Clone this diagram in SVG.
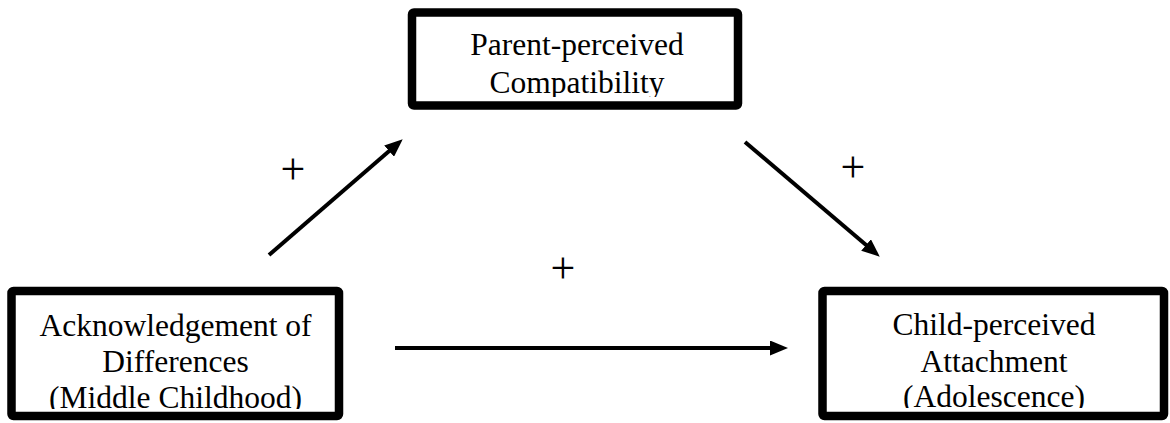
<svg xmlns="http://www.w3.org/2000/svg" width="1170" height="423" viewBox="0 0 1170 423">
<style>
.box{fill:#fff;stroke:#000;stroke-width:8.5}
.lbl{font-family:"Liberation Serif","Times New Roman",serif;font-size:31.5px;fill:#000;text-anchor:middle}
.plus{font-family:"Liberation Serif","Times New Roman",serif;font-size:44px;fill:#000;text-anchor:middle}
.conn{stroke:#000;stroke-width:4;fill:none;marker-end:url(#ah)}
</style>
<defs>
<marker id="ah" markerUnits="userSpaceOnUse" markerWidth="18" markerHeight="15" refX="7" refY="7.5" orient="auto">
<path d="M0,0 L18,7.5 L0,15 z" fill="#000"/>
</marker>
<clipPath id="c1"><rect x="416" y="17" width="318" height="80"/></clipPath>
<clipPath id="c2"><rect x="16" y="295" width="320" height="114"/></clipPath>
<clipPath id="c3"><rect x="827" y="295" width="333" height="113"/></clipPath>
</defs>
<rect width="1170" height="423" fill="#fff"/>
<g id="node-compatibility">
<rect class="box" x="412" y="12.5" width="326" height="93" rx="2"/>
<g clip-path="url(#c1)">
<text class="lbl" x="577" y="55">Parent-perceived</text>
<text class="lbl" x="577" y="93">Compatibility</text>
</g>
</g>
<g id="node-acknowledgement">
<rect class="box" x="11.5" y="291" width="327.5" height="125" rx="2"/>
<g clip-path="url(#c2)">
<text class="lbl" x="175.5" y="336">Acknowledgement of</text>
<text class="lbl" x="175.5" y="372">Differences</text>
<text class="lbl" x="175.5" y="408">(Middle Childhood)</text>
</g>
</g>
<g id="node-attachment">
<rect class="box" x="822.5" y="291" width="341.5" height="125" rx="2"/>
<g clip-path="url(#c3)">
<text class="lbl" x="994" y="335">Child-perceived</text>
<text class="lbl" x="994" y="372">Attachment</text>
<text class="lbl" x="994" y="407">(Adolescence)</text>
</g>
</g>
<g id="connectors">
<line class="conn" x1="269" y1="255" x2="394.4" y2="146.5"/>
<line class="conn" x1="745" y1="142" x2="871.4" y2="249.5"/>
<line class="conn" x1="395" y1="348" x2="777" y2="348"/>
<text class="plus" x="293" y="184">+</text>
<text class="plus" x="853" y="182">+</text>
<text class="plus" x="563" y="283">+</text>
</g>
</svg>
